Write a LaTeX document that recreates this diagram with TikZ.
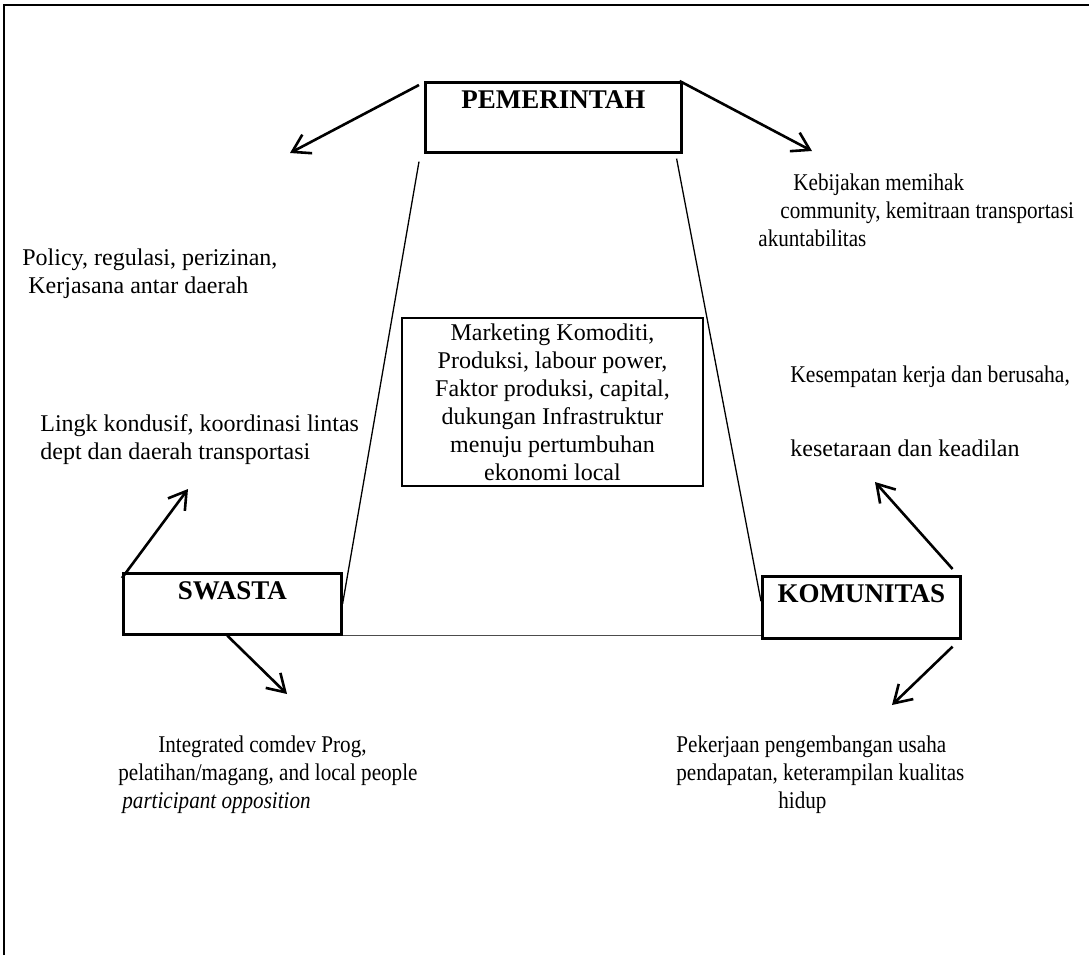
\documentclass[tikz,border=0pt]{standalone}
\usepackage{fontspec}
\setmainfont{Liberation Serif}
\usetikzlibrary{arrows.meta, calc}
\newcommand{\bodysize}{\fontsize{12pt}{14pt}\selectfont}
\newcommand{\narrowline}[2][0.88]{\scalebox{#1}[1]{#2}}
\tikzset{
x=0.5pt, y=-0.5pt, % one unit is one pixel of the page
actor/.style={draw, line width=1.3pt, font=\fontsize{13.5pt}{15pt}\selectfont\bfseries, inner xsep=0pt, inner ysep=4.5pt, text height=8.5pt, anchor=north west}, % the three partner boxes
hub/.style={draw, line width=1pt, align=center, inner sep=0pt, font=\bodysize},
note/.style={align=left, anchor=north west, inner sep=0pt, font=\bodysize},
side/.style={line width=0.65pt},
link/.style={line width=1.3pt, -{Straight Barb[length=8.5pt, width=10.5pt]}}, % open arrow heads
}

\begin{document}
\begin{tikzpicture}
  \useasboundingbox (0,0) rectangle (1089,955);
  \draw[line width=1pt] (4,955) -- (4,5) -- (1089,5);

  \node[actor, minimum width=128pt, text depth=17.5pt] (pem) at (424,81) {PEMERINTAH};
  \node[actor, minimum width=109pt, text depth=13pt] (swa) at (122,572) {SWASTA};
  \node[actor, minimum width=99pt, text depth=13.5pt] (kom) at (761,575) {KOMUNITAS};
  \node[hub, minimum width=150.5pt, minimum height=84pt, anchor=north west] (core) at (401,317)
    {Marketing Komoditi,\\Produksi, labour power,\\Faktor produksi, capital,\\dukungan Infrastruktur\\menuju pertumbuhan\\ekonomi local};

  \node[note] (pol) at (22,248) {Policy, regulasi, perizinan,\\\hspace*{3pt}Kerjasana antar daerah};
  \node[note] (keb) at (758,173) {\hspace*{17.5pt}\narrowline{Kebijakan memihak}\\\hspace*{11pt}\narrowline{community, kemitraan transportasi}\\\narrowline{akuntabilitas}};
  \node[note] (lingk) at (40,414) {Lingk kondusif, koordinasi lintas\\dept dan daerah transportasi};
  \node[note] (kes) at (790,365) {\narrowline[0.9]{Kesempatan kerja dan berusaha,}\\[23pt]kesetaraan dan keadilan};
  \node[note] (integ) at (118,735) {\hspace*{20pt}\narrowline{Integrated comdev Prog,}\\\narrowline{pelatihan/magang, and local people}\\\hspace*{2pt}\narrowline{\itshape participant opposition}};
  \node[note] (pek) at (676,735) {\narrowline{Pekerjaan pengembangan usaha}\\\narrowline{pendapatan, keterampilan kualitas}\\\hspace*{51pt}\narrowline{hidup}};

  \coordinate (polTip) at (290,153);
  \coordinate (kebTip) at (812,151);
  \coordinate (lingkTip) at (188,489);
  \coordinate (integTip) at (287,694);
  \coordinate (kesTip) at (875,482);
  \coordinate (pekTip) at (892,705);

  % trapezoid between the partners
  \draw[side] ([xshift=-2.5pt,yshift=-4pt]pem.south west) -- (swa.east);
  \draw[side] ([xshift=-3pt,yshift=-2.5pt]pem.south east) -- ([yshift=3pt]kom.west);
  \draw[side, line width=0.8pt, black!70] (swa.south east) -- (swa.south east -| kom.west);

  \draw[link] ([xshift=-2.5pt,yshift=-2pt]pem.north west) -- (polTip);
  \draw[link] ([xshift=-1.5pt]pem.north east) -- (kebTip);
  \draw[link] ([yshift=-3pt]swa.north west) -- (lingkTip);
  \draw[link] ([xshift=-2.5pt]swa.south) -- (integTip);
  \draw[link] ([xshift=-4.5pt,yshift=3pt]kom.north east) -- (kesTip);
  \draw[link] ([xshift=-4.5pt,yshift=-3.5pt]kom.south east) -- (pekTip);
\end{tikzpicture}
\end{document}
